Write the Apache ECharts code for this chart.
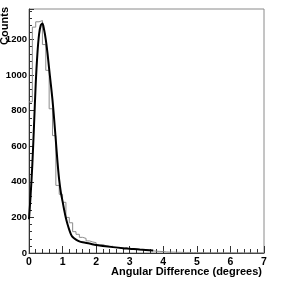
<!DOCTYPE html>
<html><head><meta charset="utf-8">
<script src="https://cdn.jsdelivr.net/npm/echarts@6/dist/echarts.min.js"></script>
<style>html,body{margin:0;padding:0;background:#fff}#c{width:284px;height:284px}</style>
</head><body><div id="c"></div>
<script>
// Histogram: bin width and counts (bins start at 0)
const binWidth = 0.1;
const histCounts = [
  850, 1270, 1300, 1307, 1172, 1027, 811, 660, 380, 330,
  285, 200, 170, 120, 105, 88, 82, 68, 62, 58,
  45, 48, 40, 36, 38, 30, 28, 26, 30, 22,
  24, 20, 18, 20, 16, 15, 12, 10, 9, 8,
  6, 5, 5, 4, 4, 3, 3, 3, 2, 2,
  2, 2, 1, 1, 1, 1, 1, 1, 1, 1,
  1, 0, 1, 0, 0, 1, 0, 0, 0, 0
];
// Fitted curve
const fitX = [0, 0.05, 0.1, 0.15, 0.2, 0.25, 0.3, 0.35, 0.4, 0.45, 0.5, 0.55, 0.6, 0.65, 0.7, 0.75, 0.8, 0.85, 0.9, 0.95, 1.0, 1.05, 1.1, 1.15, 1.2, 1.25, 1.3, 1.4, 1.5, 1.6, 1.8, 2.0, 2.2, 2.5, 2.8, 3.0, 3.3, 3.7];
const fitY = [190, 330, 500, 720, 950, 1120, 1230, 1280, 1290, 1255, 1200, 1125, 1035, 950, 860, 750, 630, 510, 410, 340, 290, 240, 195, 160, 130, 105, 90, 75, 65, 60, 53, 45, 40, 33, 27, 24, 19, 14];
const xTicks = [0, 1, 2, 3, 4, 5, 6, 7];
const yTicks = [0, 200, 400, 600, 800, 1000, 1200];
const yMax = 1372;
const xTitle = 'Angular Difference (degrees)';
const yTitle = 'Counts';

const histData = histCounts.map((c, i) => [i * binWidth, c]);
histData.push([histCounts.length * binWidth, histCounts[histCounts.length - 1]]);
const fitData = fitX.map((x, i) => [x, fitY[i]]);

const font = '"Liberation Sans", Arial, Helvetica, sans-serif';
const chart = echarts.init(document.getElementById('c'), null, {renderer: 'canvas'});
chart.setOption({
  animation: false,
  grid: {left: 29, right: 20, top: 9, bottom: 31, containLabel: false, outerBoundsMode: 'none',
         show: true, borderColor: '#8a8a8a', borderWidth: 1, backgroundColor: 'transparent'},
  graphic: [
    {type: 'text', x: 262, y: 272, style: {text: xTitle, font: 'bold 11px ' + font, fill: '#000', align: 'right', verticalAlign: 'middle'}},
    {type: 'text', x: 5, y: 7, rotation: Math.PI / 2, style: {text: yTitle, font: 'bold 11px ' + font, fill: '#000', align: 'right', verticalAlign: 'middle'}}
  ],
  xAxis: {
    type: 'value', min: xTicks[0], max: xTicks[xTicks.length - 1], interval: 1,
    axisLine: {lineStyle: {color: '#333', width: 1}},
    axisTick: {inside: true, length: 7, lineStyle: {color: '#333'}},
    minorTick: {show: true, splitNumber: 5, length: 4, lineStyle: {color: '#333'}},
    axisLabel: {fontFamily: font, fontWeight: 'bold', fontSize: 10.5, color: '#000', margin: 4},
    splitLine: {show: false}
  },
  yAxis: {
    type: 'value', min: 0, max: yMax, interval: 200,
    axisLine: {lineStyle: {color: '#333', width: 1}},
    axisTick: {inside: true, length: 5, lineStyle: {color: '#333'}},
    minorTick: {show: true, splitNumber: 5, length: 3, lineStyle: {color: '#333'}},
    axisLabel: {fontFamily: font, fontWeight: 'bold', fontSize: 9.5, color: '#000', margin: 2, showMaxLabel: false,
      formatter: v => (yTicks.indexOf(v) >= 0 ? String(v) : '')},
    splitLine: {show: false}
  },
  series: [
    {type: 'line', data: histData, step: 'end', showSymbol: false, lineStyle: {color: '#8c8c8c', width: 1}, z: 2},
    {type: 'line', data: fitData, smooth: 0.3, showSymbol: false, lineStyle: {color: '#000', width: 2}, z: 3}
  ]
});
</script></body></html>
